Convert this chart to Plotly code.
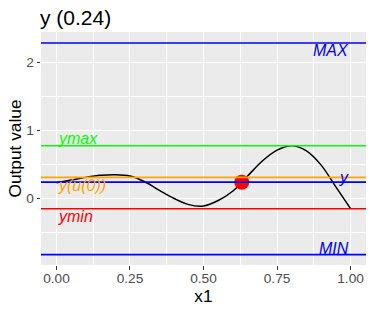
import plotly.graph_objects as go

# curve data
x1 = [0.0, 0.05, 0.1, 0.15, 0.2, 0.25, 0.3, 0.35, 0.4, 0.45, 0.5, 0.55, 0.6, 0.65,
      0.7, 0.75, 0.8, 0.85, 0.9, 0.95, 1.0]
y_out = [0.23, 0.27, 0.31, 0.34, 0.35, 0.33, 0.245, 0.12, 0.0, -0.09, -0.11, -0.03, 0.11, 0.33,
         0.55, 0.71, 0.775, 0.70, 0.49, 0.17, -0.15]

# reference levels
y_max_level = 2.283
y_min_level = -0.825
ymax = 0.775
ymin = -0.15
y_u0 = 0.31
y_target = 0.24

point_x = [0.63]
point_y = [0.24]

font = "Liberation Sans, Arial, sans-serif"

fig = go.Figure()
fig.add_trace(go.Scatter(x=x1, y=y_out, mode="lines", line=dict(color="black", width=1.5, shape="spline"),
                         showlegend=False, hoverinfo="skip"))

levels = [
    (y_max_level, "#0000FF", "MAX", "right", -7),
    (ymax, "#00FF00", "ymax", "left", 7),
    (y_u0, "#FFA500", "y(u(0))", "left", -8),
    (y_target, "#0000FF", "y", "right", 5),
    (ymin, "#FF0000", "ymin", "left", -8),
    (y_min_level, "#0000FF", "MIN", "right", 6),
]
for val, col, label, side, shift in levels:
    fig.add_hline(y=val, line=dict(color=col, width=1.6))

fig.add_trace(go.Scatter(x=point_x, y=point_y, mode="markers",
                         marker=dict(color="#FF0000", size=15), showlegend=False, hoverinfo="skip"))

for val, col, label, side, shift in levels:
    fig.add_annotation(x=0 if side == "left" else 1.0, y=val, xref="x", yref="y",
                       text="<i>%s</i>" % label, showarrow=False,
                       xanchor=side, yanchor="middle", yshift=shift,
                       font=dict(color=col, size=16, family=font))

fig.update_layout(
    width=374, height=312,
    margin=dict(l=41, r=8, t=32, b=47, autoexpand=False),
    plot_bgcolor="#EBEBEB", paper_bgcolor="white",
    font=dict(family=font),
    title=dict(text="y (0.24)", x=40/374, xanchor="left", xref="container",
               y=1-18/312, yanchor="middle", yref="container",
               font=dict(size=21, color="black", family=font)),
    showlegend=False,
)
fig.update_xaxes(range=[-0.0525, 1.0525], tickvals=[0, 0.25, 0.5, 0.75, 1.0],
                 ticktext=["0.00", "0.25", "0.50", "0.75", "1.00"],
                 gridcolor="white", gridwidth=1.1, zeroline=False, automargin=False,
                 minor=dict(tickvals=[0.125, 0.375, 0.625, 0.875], gridcolor="white", gridwidth=0.5, showgrid=True),
                 ticks="outside", ticklen=3.5, tickcolor="#333333", tickwidth=1.1,
                 ticklabelstandoff=-3,
                 tickfont=dict(size=13.7, color="#4D4D4D"),
                 title=dict(text="x1", font=dict(size=17.3, color="black"), standoff=0),
                 showline=False)
fig.update_yaxes(range=[-0.977, 2.445], tickvals=[0, 1, 2],
                 gridcolor="white", gridwidth=1.1, zeroline=False, automargin=False,
                 minor=dict(tickvals=[-0.5, 0.5, 1.5], gridcolor="white", gridwidth=0.5, showgrid=True),
                 ticks="outside", ticklen=3.5, tickcolor="#333333", tickwidth=1.1,
                 tickfont=dict(size=13.7, color="#4D4D4D"),
                 title=dict(text="Output value", font=dict(size=17.3, color="black"), standoff=0),
                 showline=False)

fig.write_html("out.html", config={"displayModeBar": False},
               post_script="document.body.style.margin='0';")
